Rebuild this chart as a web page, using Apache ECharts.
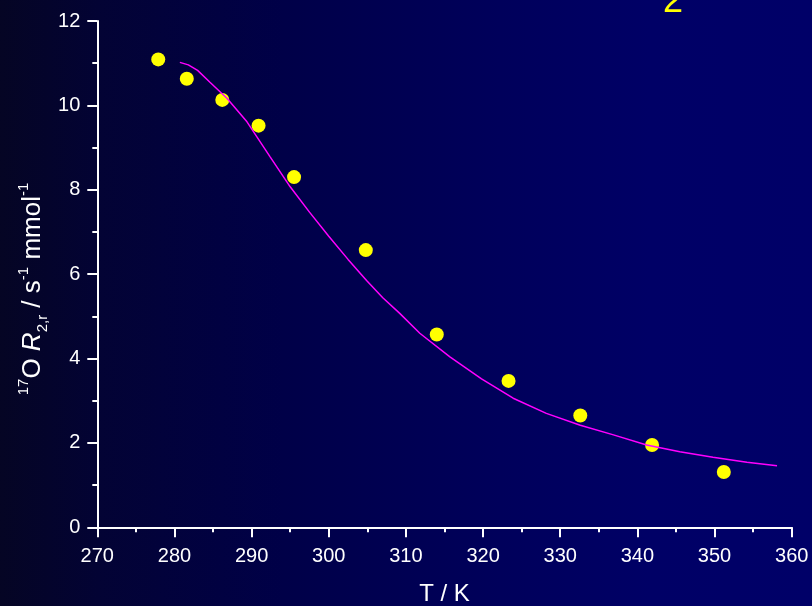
<!DOCTYPE html>
<html>
<head>
<meta charset="utf-8">
<script src="https://cdn.jsdelivr.net/npm/echarts@6/dist/echarts.min.js"></script>
<style>
  html, body { margin: 0; padding: 0; background: #000040; }
  #chart { width: 812px; height: 606px; }
</style>
</head>
<body>
<div id="chart"></div>
<script>
// Measured 17O transverse relaxivity vs temperature
const temps = [277.9, 281.6, 286.2, 290.9, 295.5, 304.8, 314.0, 323.3, 332.6, 341.9, 351.2];
const r2r = [11.09, 10.63, 10.13, 9.52, 8.30, 6.57, 4.57, 3.47, 2.65, 1.95, 1.31];

// Fitted curve
const fitT = [280.7, 281.8, 283.0, 284.6, 286.8, 289.4, 292.4, 295.0, 297.5, 300.0, 302.5, 304.9, 307.0, 309.2, 311.8, 315.7, 319.8, 323.9, 328.2, 332.6, 336.9, 341.2, 345.5, 349.8, 354.2, 358.1];
const fitR = [11.02, 10.96, 10.83, 10.55, 10.17, 9.61, 8.78, 8.07, 7.47, 6.90, 6.35, 5.85, 5.44, 5.07, 4.60, 4.04, 3.52, 3.06, 2.70, 2.42, 2.19, 1.95, 1.79, 1.66, 1.54, 1.46];

// Axis ranges
const xMin = 270, xMax = 360, xStep = 10;
const yMin = 0, yMax = 12, yStep = 2;

const font = '"Liberation Sans", Arial, sans-serif';
const chart = echarts.init(document.getElementById('chart'), null, { renderer: 'canvas' });

const axisCommon = {
  axisLine: { show: true, onZero: false, lineStyle: { color: '#ffffff', width: 2 } },
  axisTick: { show: true, inside: false, length: 10, lineStyle: { color: '#ffffff', width: 2 } },
  minorTick: { show: true, splitNumber: 2, length: 5, lineStyle: { color: '#ffffff', width: 2 } },
  splitLine: { show: false },
  axisLabel: { color: '#ffffff', fontSize: 20, fontFamily: font }
};

chart.setOption({
  animation: false,
  backgroundColor: {
    type: 'linear', x: 0, y: 0, x2: 1, y2: 0,
    colorStops: [
      { offset: 0, color: '#050524' },
      { offset: 0.12, color: '#030334' },
      { offset: 0.35, color: '#000048' },
      { offset: 0.6, color: '#00005a' },
      { offset: 0.8, color: '#000066' },
      { offset: 1, color: '#000068' }
    ]
  },
  grid: { left: 97.3, right: 20.3, top: 21, bottom: 78.7, containLabel: false, outerBoundsMode: 'none' },
  xAxis: Object.assign({}, axisCommon, {
    type: 'value', min: xMin, max: xMax, interval: xStep,
    name: 'T / K', nameLocation: 'middle', nameGap: 55,
    nameTextStyle: { color: '#ffffff', fontSize: 24, fontFamily: font },
    axisLabel: Object.assign({}, axisCommon.axisLabel, { margin: 19 })
  }),
  yAxis: Object.assign({}, axisCommon, {
    type: 'value', min: yMin, max: yMax, interval: yStep,
    axisLabel: Object.assign({}, axisCommon.axisLabel, { margin: 17 })
  }),
  graphic: [
    {
      type: 'text',
      x: 33, y: 289,
      rotation: Math.PI / 2,
      silent: true,
      style: {
        text: '{sup|17}{m|O }{it|R}{sub|2,r}{m| / s}{sup|-1}{m| mmol}{sup|-1}',
        align: 'center',
        verticalAlign: 'middle',
        fill: '#ffffff',
        font: '26px ' + font,
        rich: {
          m: { fontSize: 26, fontFamily: font, fill: '#ffffff', lineHeight: 34, verticalAlign: 'middle' },
          it: { fontSize: 26, fontFamily: font, fontStyle: 'italic', fill: '#ffffff', lineHeight: 34, verticalAlign: 'middle' },
          sup: { fontSize: 15, fontFamily: font, fill: '#ffffff', lineHeight: 15, verticalAlign: 'top' },
          sub: { fontSize: 15, fontFamily: font, fill: '#ffffff', lineHeight: 15, verticalAlign: 'bottom' }
        }
      }
    },
    {
      type: 'text',
      x: 673, y: 2,
      silent: true,
      style: {
        text: '2',
        align: 'center',
        verticalAlign: 'middle',
        fill: '#ffff00',
        font: '36px ' + font
      }
    }
  ],
  series: [
    {
      type: 'scatter',
      data: temps.map((t, i) => [t, r2r[i]]),
      symbol: 'circle',
      symbolSize: 14,
      itemStyle: { color: '#ffff00', borderWidth: 0, opacity: 1 },
      z: 2
    },
    {
      type: 'line',
      data: fitT.map((t, i) => [t, fitR[i]]),
      showSymbol: false,
      smooth: false,
      lineStyle: { color: '#ff00ff', width: 1.5 },
      z: 3
    }
  ]
});
</script>
</body>
</html>
